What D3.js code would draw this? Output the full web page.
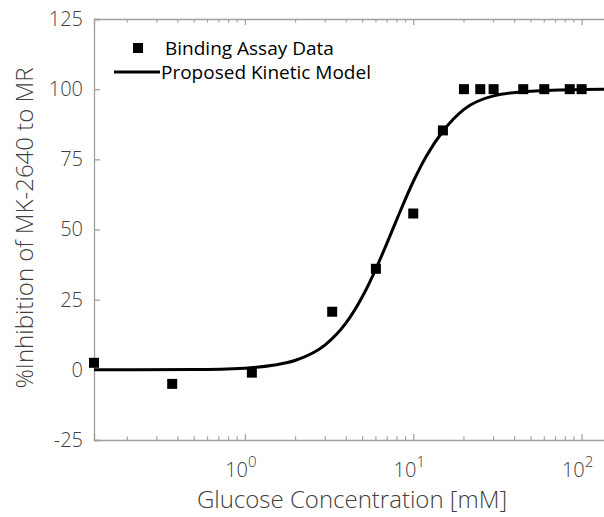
<!DOCTYPE html>
<html>
<head>
<meta charset="utf-8">
<script src="https://cdn.jsdelivr.net/npm/d3@7"></script>
<style>
  body { margin: 0; background: #fff; }
  text { font-family: "Open Sans", "Noto Sans", sans-serif; }
  .light { font-weight: 300; }
</style>
</head>
<body>
<div id="chart"></div>
<script>
//data
var glucose = [0.127, 0.37, 1.1, 3.3, 6, 10, 15, 20, 25, 30, 45, 60, 85, 100];
var inhibition = [2.5, -5, -1, 20.7, 36, 55.7, 85.3, 100, 100, 100, 100, 100, 100, 100];

//model curve, sampled from the figure
var modelX = [0.127, 0.5, 1, 1.5, 2, 3, 4, 5, 6, 7, 8, 10, 12, 15, 20, 30, 50, 100, 160];
var modelY = [0, 0.1, 0.6, 1.7, 3.4, 8.9, 16.8, 26.2, 36, 45.3, 53.7, 67.1, 76.3, 85, 92.8, 97.6, 99.3, 99.9, 100];

var yTicks = [-25, 0, 25, 50, 75, 100, 125];
var xTicks = [1, 10, 100];

//set chart
var svgWidth = 604;
var svgHeight = 517;

var plotLeft = 94, plotRight = 616, plotTop = 19, plotBottom = 440;

var svg = d3.select("#chart")
  .append("svg")
  .attr("width", svgWidth)
  .attr("height", svgHeight);

var xScale = d3.scaleLog()
  .domain([0.127, 160])
  .range([plotLeft, plotRight]);

var yScale = d3.scaleLinear()
  .domain([-25, 125])
  .range([plotBottom, plotTop]);

var axisColor = "#a0a0a0";
var textColor = "#404040";

//minor ticks for the log axis
var minorTicks = [];
[0.1, 1, 10, 100].forEach(function (dec) {
  for (var k = 2; k <= 9; k++) {
    var v = dec * k;
    if (v > 0.127 && v < 160) minorTicks.push(v);
  }
});

//bottom + top axes
var bottomAxis = d3.axisBottom(xScale)
  .tickValues(xTicks)
  .tickSize(-6)
  .tickFormat("");
var gb = svg.append("g")
  .attr("transform", `translate(0, ${plotBottom})`)
  .call(bottomAxis);

var topAxis = d3.axisTop(xScale)
  .tickValues(xTicks)
  .tickSize(-6)
  .tickFormat("");
var gt = svg.append("g")
  .attr("transform", `translate(0, ${plotTop})`)
  .call(topAxis);

[gb, gt].forEach(function (g, i) {
  g.select(".domain").attr("stroke", axisColor).attr("stroke-width", 1.3);
  g.selectAll(".tick line").attr("stroke", axisColor).attr("stroke-width", 1.3);
  g.selectAll(".minor")
    .data(minorTicks)
    .enter()
    .append("line")
    .attr("class", "minor")
    .attr("x1", d => xScale(d))
    .attr("x2", d => xScale(d))
    .attr("y1", 0)
    .attr("y2", i === 0 ? -3.5 : 3.5)
    .attr("stroke", axisColor)
    .attr("stroke-width", 1.2);
});

//x tick labels with superscript exponents
var xLab = svg.selectAll(".xlab")
  .data(xTicks)
  .enter()
  .append("text")
  .attr("class", "xlab light")
  .attr("x", d => xScale(d) - 4)
  .attr("y", 477)
  .attr("text-anchor", "middle")
  .attr("fill", textColor)
  .style("font-size", "20px");
xLab.append("tspan").text("10");
xLab.append("tspan")
  .attr("dy", -10)
  .style("font-size", "15px")
  .text(d => Math.round(Math.log10(d)));

//left axis
var leftAxis = d3.axisLeft(yScale)
  .tickValues(yTicks)
  .tickSize(-6)
  .tickPadding(11)
  .tickFormat(d => String(d));
var gl = svg.append("g")
  .attr("transform", `translate(${plotLeft}, 0)`)
  .call(leftAxis);
gl.select(".domain").attr("stroke", axisColor).attr("stroke-width", 1.3);
gl.selectAll(".tick line").attr("stroke", axisColor).attr("stroke-width", 1.3);
gl.selectAll(".tick text")
  .attr("class", "light")
  .attr("fill", textColor)
  .style("font-size", "20px")
  .style("font-family", "'Open Sans', sans-serif");

//clip for the curve
svg.append("clipPath")
  .attr("id", "plotclip")
  .append("rect")
  .attr("x", plotLeft)
  .attr("y", plotTop)
  .attr("width", svgWidth - plotLeft)
  .attr("height", plotBottom - plotTop);

//model line
var modelData = modelX.map((x, i) => ({ x: x, y: modelY[i] }));
var line = d3.line()
  .x(d => xScale(d.x))
  .y(d => yScale(d.y))
  .curve(d3.curveMonotoneX);

svg.append("path")
  .datum(modelData)
  .attr("clip-path", "url(#plotclip)")
  .attr("d", line)
  .attr("fill", "none")
  .attr("stroke", "black")
  .attr("stroke-width", 3);

//data squares
var points = glucose.map((x, i) => ({ x: x, y: inhibition[i] }));
svg.selectAll(".pt")
  .data(points)
  .enter()
  .append("rect")
  .attr("class", "pt")
  .attr("x", d => xScale(d.x) - 5)
  .attr("y", d => yScale(d.y) - 5)
  .attr("width", 10)
  .attr("height", 10)
  .attr("fill", "black");

//legend
svg.append("rect")
  .attr("x", 133).attr("y", 43)
  .attr("width", 10).attr("height", 10)
  .attr("fill", "black");
svg.append("text")
  .attr("x", 165).attr("y", 55)
  .attr("fill", "black")
  .style("font-size", "19px")
  .text("Binding Assay Data");
svg.append("line")
  .attr("x1", 114).attr("x2", 160)
  .attr("y1", 72).attr("y2", 72)
  .attr("stroke", "black")
  .attr("stroke-width", 3);
svg.append("text")
  .attr("x", 161).attr("y", 79)
  .attr("fill", "black")
  .style("font-size", "19px")
  .text("Proposed Kinetic Model");

//axis labels
svg.append("text")
  .attr("class", "light")
  .attr("transform", "translate(352, 508)")
  .attr("text-anchor", "middle")
  .attr("fill", textColor)
  .style("font-size", "24px")
  .text("Glucose Concentration [mM]");

svg.append("text")
  .attr("class", "light")
  .attr("transform", "translate(33, 228) rotate(-90)")
  .attr("text-anchor", "middle")
  .attr("fill", textColor)
  .style("font-size", "24px")
  .text("%Inhibition of MK-2640 to MR");
</script>
</body>
</html>
